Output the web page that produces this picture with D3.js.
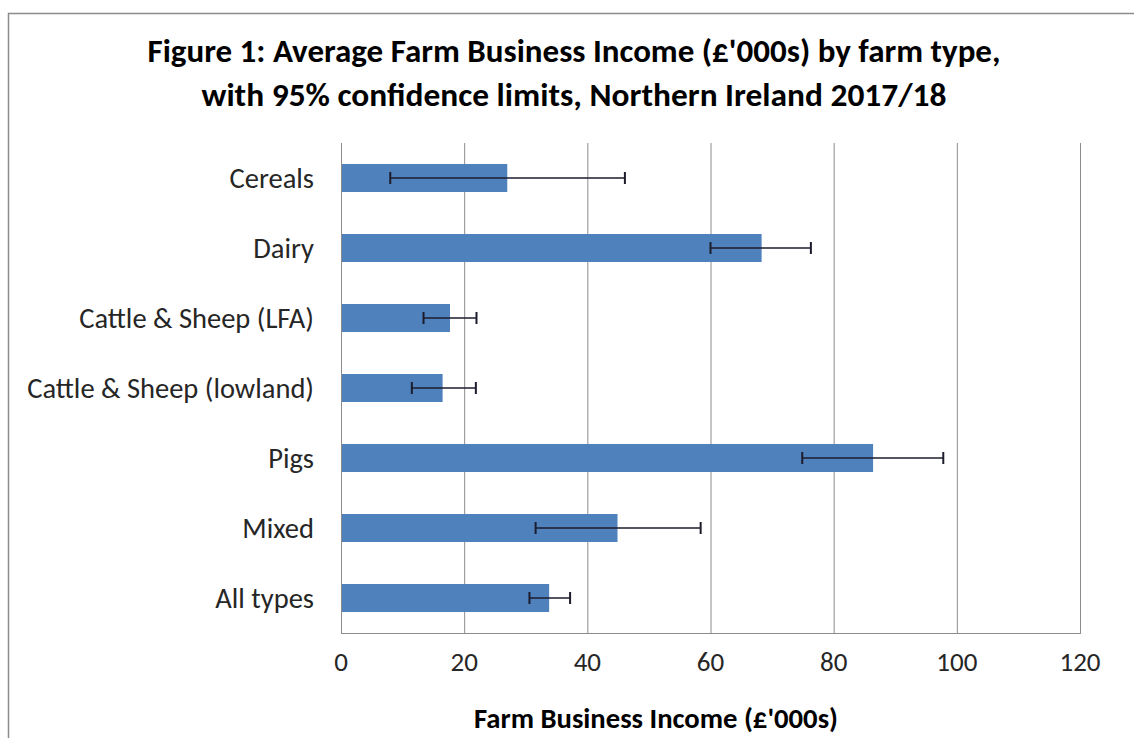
<!DOCTYPE html>
<html>
<head>
<meta charset="utf-8">
<script src="https://cdn.jsdelivr.net/npm/d3@7"></script>
<style>
  body { margin: 0; background: #fff; }
  text { font-family: Carlito, Calibri, "Open Sans", sans-serif; }
</style>
</head>
<body>
<div id="chart"></div>
<script>
// data (£'000s)
var farmTypes = ["Cereals", "Dairy", "Cattle & Sheep (LFA)", "Cattle & Sheep (lowland)", "Pigs", "Mixed", "All types"];
var incomes   = [27.0, 68.3, 17.7, 16.5, 86.4, 44.9, 33.8];
var lowerCL   = [8.0, 60.0, 13.4, 11.5, 74.9, 31.6, 30.6];
var upperCL   = [46.1, 76.3, 22.0, 21.9, 97.8, 58.4, 37.2];
var xTicks    = [0, 20, 40, 60, 80, 100, 120];
var titleLines = ["Figure 1: Average Farm Business Income (£'000s) by farm type,",
                  "with 95% confidence limits, Northern Ireland 2017/18"];
var xTitle = "Farm Business Income (£'000s)";

var width = 1134, height = 738;
var plot = {left: 341, right: 1080, top: 143, bottom: 633};

var data = farmTypes.map(function(d, i) {
  return {type: d, value: incomes[i], lo: lowerCL[i], hi: upperCL[i]};
});

var svg = d3.select("#chart")
  .append("svg")
    .attr("width", width)
    .attr("height", height);

// outer frame of the chart
svg.append("rect")
  .attr("x", 8.5).attr("y", 13.5)
  .attr("width", 1200).attr("height", 800)
  .attr("fill", "#fff")
  .attr("stroke", "#8c8c8c")
  .attr("stroke-width", 1.5);

var x = d3.scaleLinear()
  .domain([0, 120])
  .range([plot.left, plot.right]);

var y = d3.scaleBand()
  .domain(farmTypes)
  .range([plot.top, plot.bottom])
  .paddingInner(0.6)
  .paddingOuter(0.3);

// vertical gridlines
svg.append("g")
  .selectAll("line")
  .data(xTicks)
  .enter()
  .append("line")
    .attr("x1", function(d) { return x(d) + 0.5; })
    .attr("x2", function(d) { return x(d) + 0.5; })
    .attr("y1", plot.top)
    .attr("y2", plot.bottom)
    .attr("stroke", "#8c8c8c")
    .attr("stroke-width", 1);

// bottom axis line
svg.append("line")
  .attr("x1", plot.left).attr("x2", plot.right + 1)
  .attr("y1", plot.bottom + 0.5).attr("y2", plot.bottom + 0.5)
  .attr("stroke", "#8c8c8c");

// bars
svg.append("g")
  .selectAll("rect")
  .data(data)
  .enter()
  .append("rect")
    .attr("x", x(0) + 1)
    .attr("y", function(d) { return y(d.type); })
    .attr("width", function(d) { return x(d.value) - x(0) - 1; })
    .attr("height", y.bandwidth())
    .attr("fill", "#4f81bd");

// error bars
var err = svg.append("g")
  .selectAll("g")
  .data(data)
  .enter()
  .append("g")
    .attr("stroke", "#1c1c2c")
    .attr("stroke-width", 1.5);

err.append("line")
  .attr("x1", function(d) { return x(d.lo); })
  .attr("x2", function(d) { return x(d.hi); })
  .attr("y1", function(d) { return y(d.type) + y.bandwidth() / 2; })
  .attr("y2", function(d) { return y(d.type) + y.bandwidth() / 2; });

["lo", "hi"].forEach(function(k) {
  err.append("line")
    .attr("x1", function(d) { return x(d[k]); })
    .attr("x2", function(d) { return x(d[k]); })
    .attr("y1", function(d) { return y(d.type) + y.bandwidth() / 2 - 6; })
    .attr("y2", function(d) { return y(d.type) + y.bandwidth() / 2 + 6; })
    .attr("stroke-width", 2);
});

// category labels
svg.append("g")
  .selectAll("text")
  .data(farmTypes)
  .enter()
  .append("text")
    .attr("x", 314)
    .attr("y", function(d) { return y(d) + y.bandwidth() / 2; })
    .attr("dy", "0.35em")
    .attr("text-anchor", "end")
    .attr("font-size", 28.5)
    .attr("fill", "#262626")
    .text(function(d) { return d; });

// tick labels
svg.append("g")
  .selectAll("text")
  .data(xTicks)
  .enter()
  .append("text")
    .attr("x", function(d) { return x(d); })
    .attr("y", 671)
    .attr("text-anchor", "middle")
    .attr("font-size", 27)
    .attr("fill", "#262626")
    .text(function(d) { return d; });

// title
svg.append("g")
  .selectAll("text")
  .data(titleLines)
  .enter()
  .append("text")
    .attr("x", 574)
    .attr("y", function(d, i) { return 62 + i * 44; })
    .attr("text-anchor", "middle")
    .attr("font-size", 33)
    .attr("font-weight", "bold")
    .attr("fill", "#000")
    .attr("textLength", function(d, i) { return i === 0 ? 853 : 745; })
    .attr("lengthAdjust", "spacingAndGlyphs")
    .text(function(d) { return d; });

// x axis title
svg.append("text")
  .attr("x", 656)
  .attr("y", 728)
  .attr("text-anchor", "middle")
  .attr("font-size", 28)
  .attr("font-weight", "bold")
  .attr("fill", "#000")
  .attr("textLength", 364)
  .attr("lengthAdjust", "spacingAndGlyphs")
  .text(xTitle);
</script>
</body>
</html>
